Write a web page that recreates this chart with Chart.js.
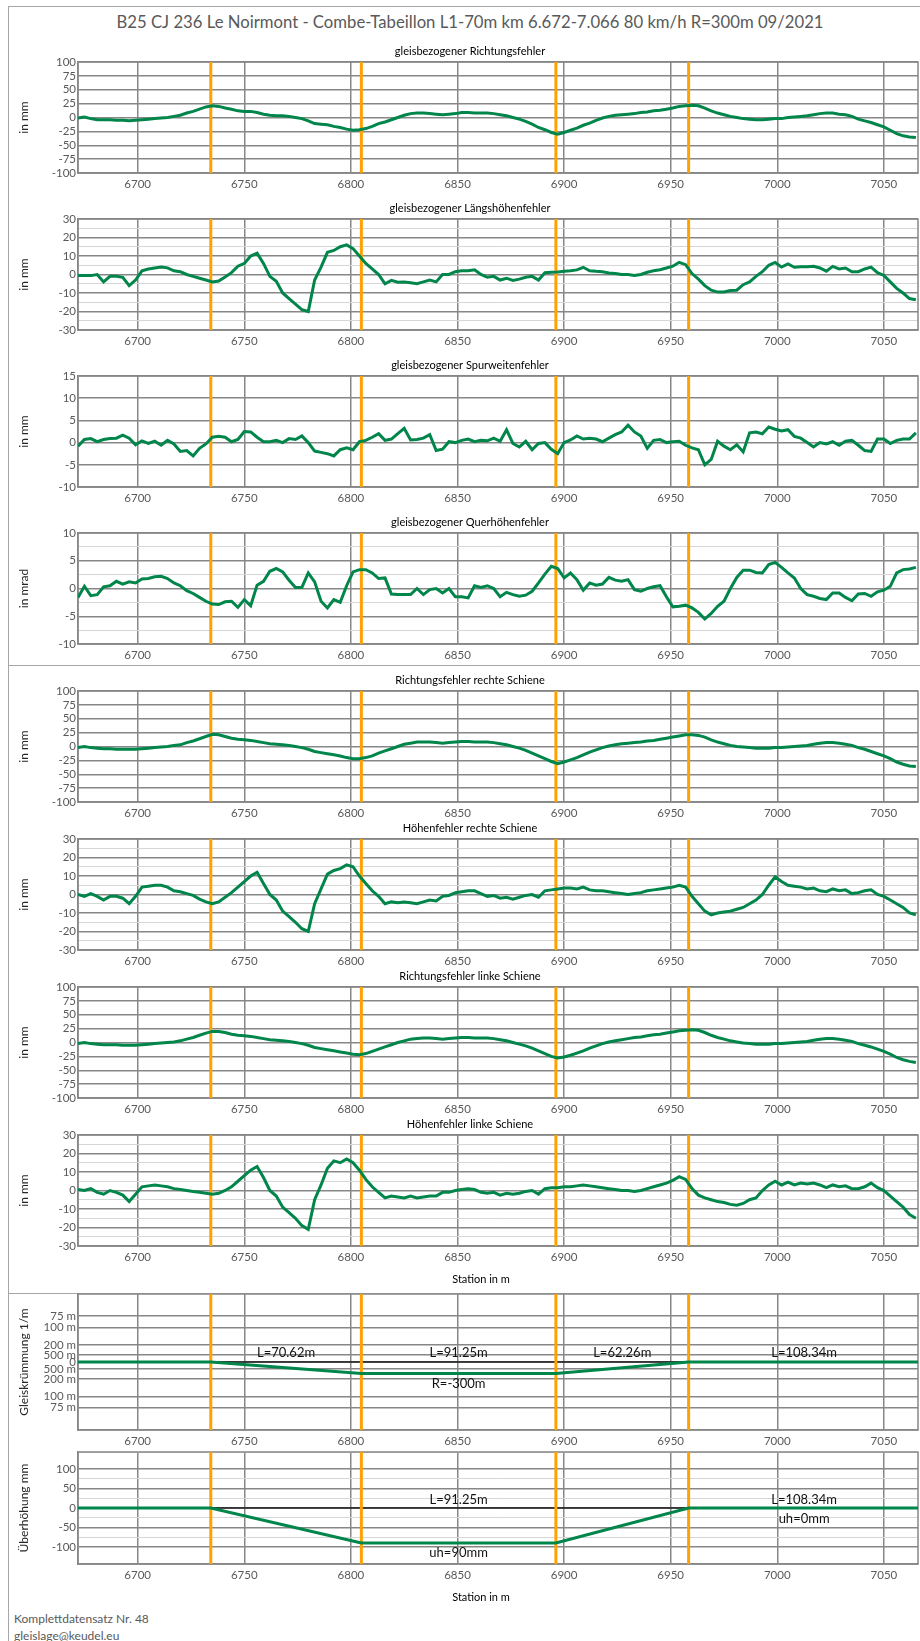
<!DOCTYPE html>
<html>
<head>
<meta charset="utf-8">
<script src="https://cdn.jsdelivr.net/npm/chart.js@4.4.1/dist/chart.umd.min.js"></script>
<style>
  body { margin: 0; background: #fff; width: 920px; height: 1641px; position: relative; overflow: hidden; font-family: Lato, sans-serif; }
  #frame { position: absolute; left: 8px; top: 6px; width: 912px; height: 1640px; border-left: 1px solid #a6a6a6; border-top: 1px solid #a6a6a6; }
  .sep { position: absolute; left: 8px; width: 912px; height: 0; border-top: 1px solid #a6a6a6; }
  #title { position: absolute; left: 0; top: 12px; width: 940px; text-align: center; font-size: 16.7px; line-height: 20px; color: #595959; }
  .foot { position: absolute; left: 14px; font-size: 12px; line-height: 16px; color: #595959; }
  canvas { position: absolute; left: 0; }
</style>
</head>
<body>
<div id="frame"></div>
<div class="sep" style="top:665px"></div>
<div class="sep" style="top:1293px"></div>
<div id="title">B25 CJ 236 Le Noirmont - Combe-Tabeillon L1-70m km 6.672-7.066 80 km/h R=300m 09/2021</div>
<div class="foot" style="top:1611px">Komplettdatensatz Nr. 48</div>
<div class="foot" style="top:1628px">gleislage@keudel.eu</div>
<script>
// stations: every 3 m from km 6.672
const STATION_START = 6672;
const STATION_STEP = 3;
const X_MIN = 6672, X_MAX = 7066;

// element boundaries (orange lines) and lengths
const elementBounds = [6734.28, 6804.9, 6896.15, 6958.41, 7066.75];
const elementLengths = ['L=70.62m', 'L=91.25m', 'L=62.26m', 'L=108.34m'];

// alignment / cant geometry
const alignStations = [6672, 6734.28, 6804.9, 6896.15, 6958.41, 7066];
const curvature = [0, 0, -1 / 300, -1 / 300, 0, 0];
const cant = [0, 0, -90, -90, 0, 0];
const curvatureRadii = [75, 100, 200, 500];

// measured errors, one value per station
const richtung = [-1,1,-2,-4,-4,-4,-5,-5,-6,-5, -4,-3,-2,-1,0,2,4,8,11,15, 19,21,20,17,15,12,11,11,9,6,
  4,3,3,2,0,-2,-6,-11,-12,-13, -16,-18,-21,-23,-22,-20,-16,-11,-8,-4, 0,4,7,8,8,7,6,5,6,7,
  9,9,8,8,8,7,5,3,0,-3, -7,-12,-18,-22,-27,-30,-27,-23,-19,-14, -10,-5,-1,2,4,5,6,7,9,10,
  12,13,15,17,20,21,22,21,17,12, 8,5,2,0,-2,-3,-4,-4,-3,-2, -2,0,1,2,3,5,7,8,8,6,
  5,2,-3,-6,-9,-13,-17,-23,-29,-33, -35,-36];
const laengshoehe = [-0.6,-0.5,-0.6,0,-4,-1,-1,-1.5,-6,-3, 2,3,3.5,4,3.6,2,1.5,0,-1,-2,
  -3,-4,-3.5,-1.3,1,4.5,6,10,11.5,6, -1,-3.7,-10,-13,-16,-19,-20,-3,4,12, 13,15,16,14,10,6,3,0,-5,-3.2,
  -4.2,-4,-4.5,-5,-4,-3,-4,0,0,1.5, 2,2,2.5,0,-1.5,-1,-3,-2,-3.2,-2.5, -1.5,-1,-3,1,1.2,1.4,1.8,2,2.5,3.9,
  2,1.7,1.5,0.8,0.5,0,0,-0.5,0,1.2, 2,2.6,3.5,4.5,6.6,5.3,0.5,-2.5,-6,-8.5, -9.5,-9.5,-8.7,-8.5,-5.5,-4,-1,1.5,5,6.5,
  4,5.7,3.9,4.2,4.2,4.4,3.5,1.8,4.4,3, 3.5,1.5,1.5,3,4,1,-0.5,-4,-7.5,-10, -13,-13.6];
const spurweite = [-0.8,0.7,0.9,0.2,0.7,0.9,1,1.7,1,-0.5, 0.4,-0.2,0.3,-0.6,0.5,-0.3,-2,-1.8,-3,-1.3,
  -0.3,1.2,1.4,1.2,0.2,0.7,2.5,2.4,1.2,0.2, 0.2,0.5,0,0.9,0.7,1.5,0,-1.9,-2.2,-2.5, -3,-1.6,-1.2,-1.6,0.2,0.5,1.2,2,0.5,0.8,
  2,3.2,0.6,0.7,1,1.8,-1.8,-1.5,0.2,0, 0.5,0.8,0.2,0.5,0.4,1,0.3,2.9,-0.2,-1, 0.3,-1.6,-0.2,0,-1.5,-2.5,0,0.6,1.5,0.8,
  1,0.8,0.2,1,1.8,2.4,3.9,2.4,1.5,-1.3, 0.5,0.7,0,0.2,0.3,-0.6,-1.2,-1.6,-5,-3.8, 0.3,-0.8,-1.6,-0.5,-2.1,2.2,2.4,2,3.5,3,
  2.6,2.9,1.4,1,0,-1,0,-0.3,0.2,-0.6, 0.3,0.5,-0.6,-1.8,-2,0.8,0.8,-0.2,0.5,0.8, 0.8,2.2];
const querhoehe = [-1.6,0.4,-1.3,-1.1,0.3,0.5,1.3,0.8,1.2,1, 1.7,1.8,2.1,2.2,1.8,1,0.5,-0.4,-0.9,-1.6,
  -2.3,-2.8,-2.9,-2.4,-2.3,-3.4,-2,-3.1,0.6,1.3, 3.1,3.6,3,1.5,0.2,0.2,2.8,1.2,-2.3,-3.5, -2,-2.5,0.5,3,3.4,3.4,2.8,1.8,1.9,-1,
  -1.1,-1.1,-1.1,0,-1.1,-0.2,0,-0.8,0,-1.5, -1.5,-1.7,0.5,0.2,0.5,0,-1.5,-0.7,-1.1,-1.4, -1.2,-0.5,1,2.6,4,3.6,1.9,2.8,1.6,-0.3,
  1,0.6,0.8,2,1.5,1.3,1.6,-0.2,-0.5,0, 0.3,0.5,-1.5,-3.3,-3.2,-3,-3.5,-4.3,-5.5,-4.5, -3.2,-2.3,0,2,3.3,3.3,2.9,2.8,4.3,4.7,
  3.8,2.8,1.9,0,-1.1,-1.4,-1.8,-2,-0.8,-0.8, -1.6,-2.2,-1,-0.9,-1.4,-0.6,-0.3,0.4,2.8,3.4, 3.5,3.8];
const richtungRechts = [-2,0,-2,-3,-4,-4,-5,-5,-5,-5, -4,-3,-2,-1,0,2,3,7,10,14, 18,22,21,18,15,13,12,11,9,7,
  5,4,3,2,0,-2,-5,-9,-11,-13, -15,-17,-20,-22,-22,-20,-17,-12,-8,-4, 0,4,6,8,8,8,7,6,7,8,
  9,9,8,8,8,7,5,3,0,-3, -7,-12,-17,-22,-27,-31,-28,-24,-20,-15, -10,-6,-2,1,3,5,6,7,8,10,
  11,13,15,17,19,21,21,20,17,12, 8,5,2,0,-1,-2,-3,-3,-3,-2, -2,-1,0,1,2,4,6,7,7,6,
  4,2,-2,-5,-9,-13,-17,-22,-28,-32, -35,-36];
const hoeheRechts = [0,-1,0.5,-1,-3,-1,-1,-2,-5,-1, 4,4.5,5,5,4,2,1.5,0.5,-0.5,-2.5,
  -4,-5,-4,-1.5,1,4,7,10,12,6, 0,-3,-9,-12,-15,-18.5,-20,-5,3,11, 13,14,16,15,10,6,2,-1,-5,-4,
  -4.5,-4,-4.5,-5,-4,-3,-3.5,-1,-0.5,1, 1.5,2,2,0.5,-1,-0.5,-2,-1.5,-2.5,-1.5, -0.5,0,-1.5,2,2.5,3,3.5,3.5,3,4,
  2.5,2,2,1.5,1,0.5,0,0.5,1,2, 2.5,3,3.5,4,5,4,-1,-5,-9,-11, -10,-9.5,-9,-8,-7,-5,-3,0,5,9.5,
  7,5,4.5,4,3,3.5,2,1.5,3,2, 2.5,0.5,1,2,2.5,0,-1,-3,-5,-7, -10,-11];
const richtungLinks = [-2,0,-2,-3,-4,-4,-4,-5,-5,-5, -4,-3,-2,-1,0,1,3,6,9,13, 17,20,20,18,15,13,12,11,9,7,
  5,4,3,2,0,-2,-5,-9,-11,-13, -15,-17,-19,-21,-22,-20,-16,-12,-8,-4, 0,3,6,7,8,8,7,6,7,8,
  9,9,8,8,8,7,5,3,0,-3, -6,-10,-15,-20,-25,-28,-26,-23,-19,-15, -10,-6,-2,1,3,5,7,9,10,12,
  14,15,17,19,21,22,23,22,18,13, 9,6,3,1,-1,-2,-3,-3,-3,-2, -2,-1,0,1,2,4,6,7,7,6,
  4,2,-2,-5,-8,-12,-16,-21,-27,-31, -34,-36];
const hoeheLinks = [0.5,0,1,-1,-2,0,-1,-2.5,-6,-2, 2,2.5,3,2.5,2,1,0.5,0,-0.5,-1,
  -1.5,-2,-1.5,0,2,5,8,11,13,7, 0,-3,-9,-12,-15,-19,-21,-5,3,12, 16,15,17,15,11,6,2,-1,-4,-3,
  -3.5,-4,-3,-4,-3.5,-3,-3,-1,-1,0, 0.5,1,0.5,-1,-1.5,-1,-2.5,-1.5,-2,-1.5, -0.5,0,-2,1,1.5,1.5,2,2,2.5,3,
  2.5,2,1.5,1,0.5,0,0,-0.5,0,1, 2,3,4,5.5,7.5,6,1,-2.5,-4,-5, -6,-6.5,-7.5,-8,-7,-5,-4,0,3,5,
  3,4.5,3,4,3.5,4,3,1.5,3,2, 2.5,1,1,2,4,1.5,0,-3,-6,-9, -13,-15];

const GREEN = '#00854a', ORANGE = '#ffa200', DARK = '#878787', LIGHT = '#d6d6d6', TICK = '#595959';
Chart.defaults.font.family = 'Lato, "Open Sans", sans-serif';
Chart.defaults.animation = false;

const stations = richtung.map((v, i) => STATION_START + i * STATION_STEP);

const panels = [
  { top: 62, bottom: 173, title: 'gleisbezogener Richtungsfehler', yTitle: 'in mm', values: richtung, min: -100, max: 100, step: 25, major: 25 },
  { top: 219, bottom: 330, title: 'gleisbezogener Längshöhenfehler', yTitle: 'in mm', values: laengshoehe, min: -30, max: 30, step: 5, major: 10 },
  { top: 376, bottom: 487, title: 'gleisbezogener Spurweitenfehler', yTitle: 'in mm', values: spurweite, min: -10, max: 15, step: 5, major: 5 },
  { top: 533, bottom: 644, title: 'gleisbezogener Querhöhenfehler', yTitle: 'in mrad', values: querhoehe, min: -10, max: 10, step: 2.5, major: 5 },
  { top: 691, bottom: 802, title: 'Richtungsfehler rechte Schiene', yTitle: 'in mm', values: richtungRechts, min: -100, max: 100, step: 25, major: 25 },
  { top: 839, bottom: 950, title: 'Höhenfehler rechte Schiene', yTitle: 'in mm', values: hoeheRechts, min: -30, max: 30, step: 5, major: 10 },
  { top: 987, bottom: 1098, title: 'Richtungsfehler linke Schiene', yTitle: 'in mm', values: richtungLinks, min: -100, max: 100, step: 25, major: 25 },
  { top: 1135, bottom: 1246, title: 'Höhenfehler linke Schiene', yTitle: 'in mm', values: hoeheLinks, min: -30, max: 30, step: 5, major: 10, stationTitle: true },
  { top: 1294, bottom: 1430, yTitle: 'Gleiskrümmung 1/m', xs: alignStations, values: curvature, min: -0.0198, max: 0.0198,
    radiusTicks: true, zeroLine: true,
    labels: [
      { text: elementLengths[0], el: 0, y: 0, dy: -9 },
      { text: elementLengths[1], el: 1, y: 0, dy: -9 },
      { text: elementLengths[2], el: 2, y: 0, dy: -9 },
      { text: elementLengths[3], el: 3, y: 0, dy: -9 },
      { text: 'R=-300m', el: 1, y: -1 / 300, dy: 10.5 }
    ] },
  { top: 1452, bottom: 1564, yTitle: 'Überhöhung mm', xs: alignStations, values: cant, min: -144, max: 144, step: 25, major: 50, labelMax: 100,
    zeroLine: true, stationTitle: true,
    labels: [
      { text: elementLengths[1], el: 1, y: 0, dy: -8.5 },
      { text: elementLengths[3], el: 3, y: 0, dy: -8.5 },
      { text: 'uh=0mm', el: 3, y: 0, dy: 10.5 },
      { text: 'uh=90mm', el: 1, y: -90, dy: 10 }
    ] }
];

const overlay = {
  id: 'overlay',
  beforeDatasetsDraw(chart) {
    const { ctx, chartArea: a } = chart;
    ctx.save();
    ctx.strokeStyle = DARK;
    ctx.lineWidth = 1.5;
    ctx.strokeRect(a.left, a.top, a.right - a.left, a.bottom - a.top);
    ctx.restore();
  },
  afterDraw(chart, args, opts) {
    const { ctx, chartArea: a, scales: { x, y } } = chart;
    ctx.save();
    ctx.textAlign = 'center';
    ctx.textBaseline = 'middle';
    ctx.fillStyle = '#000';
    ctx.font = '11px Lato';
    if (opts.title) ctx.fillText(opts.title, 470, a.top - 10.5);
    if (opts.stationTitle) ctx.fillText('Station in m', 481, a.bottom + 33);
    ctx.font = '13px Lato';
    ctx.fillStyle = '#111';
    (opts.labels || []).forEach(l => {
      const mid = (elementBounds[l.el] + elementBounds[l.el + 1]) / 2;
      ctx.fillText(l.text, x.getPixelForValue(mid), y.getPixelForValue(l.y) + l.dy);
    });
    ctx.restore();
  }
};

function makePanel(p) {
  const padTop = p.title ? 20 : 10;
  const xh = p.stationTitle ? 42 : 22;
  const canvas = document.createElement('canvas');
  canvas.width = 920;
  canvas.height = padTop + (p.bottom - p.top) + xh;
  canvas.style.top = (p.top - padTop) + 'px';
  document.body.appendChild(canvas);

  const xs = p.xs || stations;
  const datasets = [{
    data: xs.map((s, i) => ({ x: s, y: p.values[i] })),
    borderColor: GREEN, borderWidth: 3, pointRadius: 0, tension: 0, order: 0
  }];
  const vlines = [];
  elementBounds.slice(0, 4).forEach(b => vlines.push({ x: b, y: p.min }, { x: b, y: p.max }, { x: b, y: null }));
  datasets.push({ data: vlines, borderColor: ORANGE, borderWidth: 3, pointRadius: 0, spanGaps: false, order: 1 });
  if (p.zeroLine) {
    datasets.push({ data: [{ x: X_MIN, y: 0 }, { x: X_MAX, y: 0 }], borderColor: '#1a1a1a', borderWidth: 1.5, pointRadius: 0, order: 2 });
  }

  const isMinor = v => p.major && Math.abs(v % p.major) > 1e-9;
  const yTicks = {
    color: TICK, font: { size: 11.5 }, padding: 2, autoSkip: false,
    callback: v => {
      if (p.radiusTicks) return v === 0 ? '0' : Math.round(1 / Math.abs(v)) + ' m';
      if (isMinor(v)) return '';
      if (p.labelMax !== undefined && Math.abs(v) > p.labelMax) return '';
      return String(v);
    }
  };
  if (p.step) yTicks.stepSize = p.step;

  new Chart(canvas, {
    type: 'line',
    data: { datasets },
    options: {
      responsive: false,
      animation: false,
      events: [],
      layout: { padding: { left: 0, right: 2, top: padTop, bottom: 0 } },
      plugins: {
        legend: { display: false }, tooltip: { enabled: false },
        overlay: { title: p.title, stationTitle: p.stationTitle, labels: p.labels }
      },
      scales: {
        x: {
          type: 'linear', min: X_MIN, max: X_MAX,
          ticks: { stepSize: 50, includeBounds: false, padding: 4, color: TICK, font: { size: 11.5 }, maxRotation: 0, autoSkip: false,
            callback: v => String(v) },
          grid: { color: DARK, lineWidth: 1.5, drawTicks: false },
          border: { color: DARK, width: 1.5 },
          afterFit: s => { s.height = xh; }
        },
        y: {
          type: 'linear', min: p.min, max: p.max,
          ticks: yTicks,
          afterBuildTicks: p.radiusTicks ? s => {
            const vals = [];
            curvatureRadii.forEach(r => vals.push(1 / r));
            vals.push(0);
            curvatureRadii.slice().reverse().forEach(r => vals.push(-1 / r));
            s.ticks = vals.map(v => ({ value: v }));
          } : undefined,
          grid: {
            drawTicks: false,
            color: c => (c.tick && isMinor(c.tick.value)) ? LIGHT : DARK,
            lineWidth: c => (c.tick && isMinor(c.tick.value)) ? 1 : 1.5
          },
          border: { color: DARK, width: 1.5 },
          title: { display: true, text: p.yTitle, color: '#262626', font: { size: 12 }, padding: { top: 17, bottom: 0 } },
          afterFit: s => { s.width = 78; }
        }
      }
    },
    plugins: [overlay]
  });
}

panels.forEach(makePanel);
</script>
</body>
</html>
